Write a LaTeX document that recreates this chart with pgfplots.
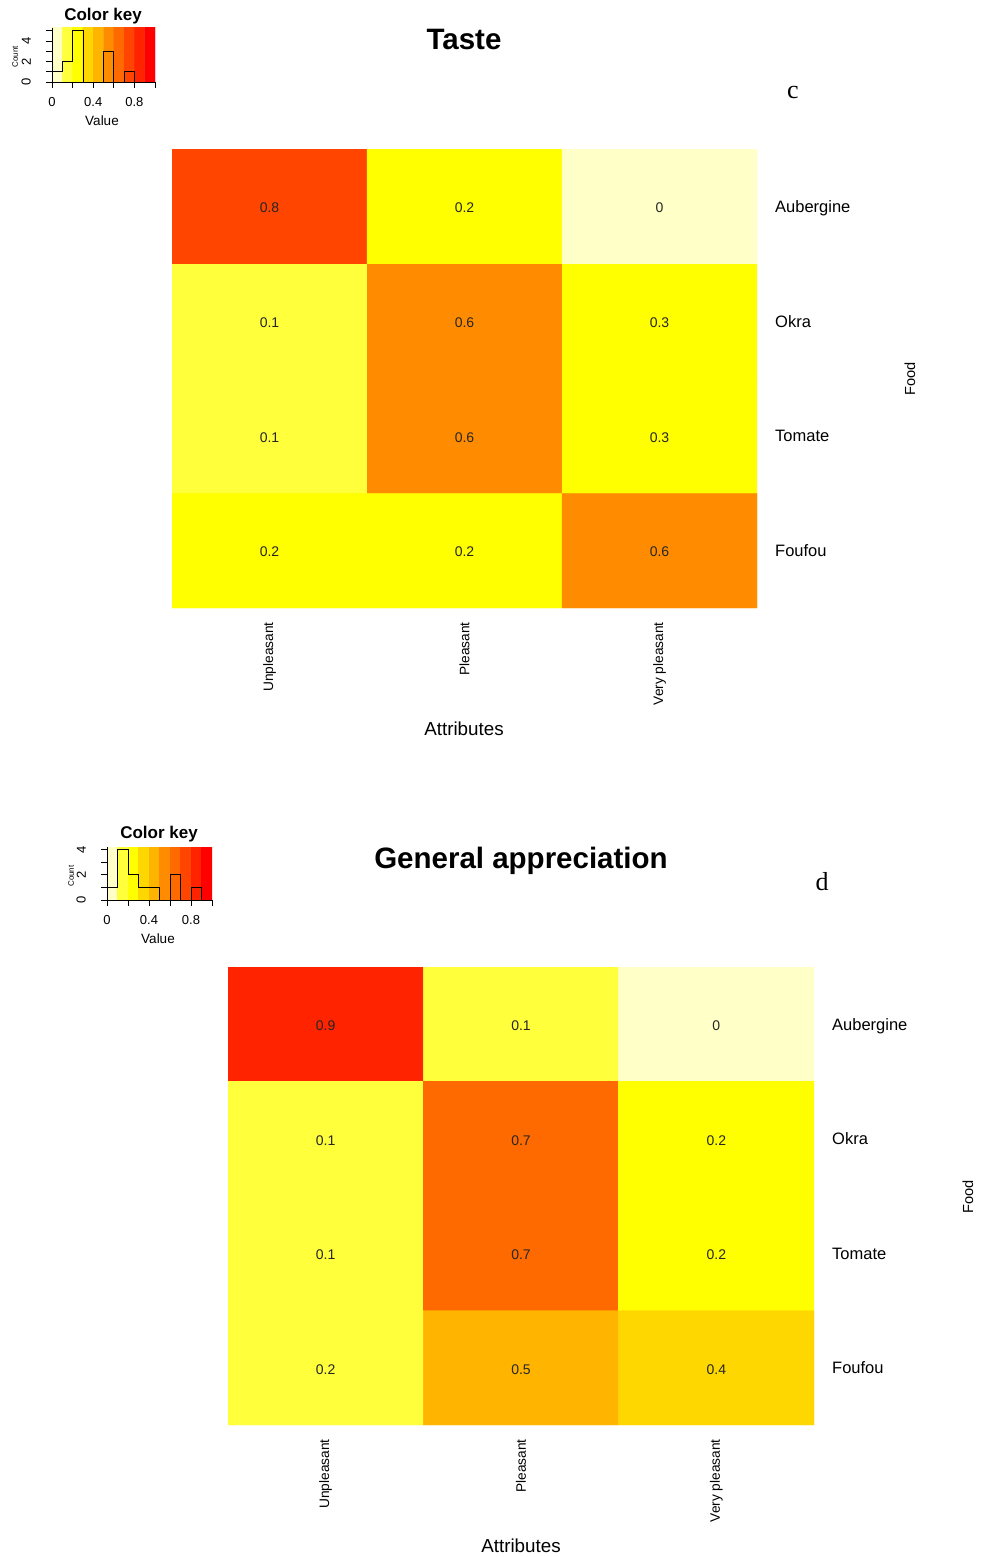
\documentclass[border=0pt]{standalone}
\usepackage{pgfplots}
\pgfplotsset{compat=1.18}
\usepackage{pgfplotstable}
\usepackage{fontspec}
\setmainfont{Liberation Sans}
\newfontfamily\panelfont{Liberation Serif}
\newcommand\fs[1]{\fontsize{#1}{#1}\selectfont}

% cell values (v) and the colour-key bin each cell falls in (bin)
\pgfplotstableread{
c r v bin
0 0 0.8 7
1 0 0.2 2
2 0 0 0
0 1 0.1 1
1 1 0.6 5
2 1 0.3 2
0 2 0.1 1
1 2 0.6 5
2 2 0.3 2
0 3 0.2 2
1 3 0.2 2
2 3 0.6 5
}\taste

\pgfplotstableread{
c r v bin
0 0 0.9 8
1 0 0.1 1
2 0 0 0
0 1 0.1 1
1 1 0.7 6
2 1 0.2 2
0 2 0.1 1
1 2 0.7 6
2 2 0.2 2
0 3 0.2 1
1 3 0.5 4
2 3 0.4 3
}\general

% colour strip behind the key histogram
\pgfplotstableread{
x y bin
0.05 0 0
0.15 0 1
0.25 0 2
0.35 0 3
0.45 0 4
0.55 0 5
0.65 0 6
0.75 0 7
0.85 0 8
0.95 0 9
0.05 20 0
0.15 20 1
0.25 20 2
0.35 20 3
0.45 20 4
0.55 20 5
0.65 20 6
0.75 20 7
0.85 20 8
0.95 20 9
}\keystrip

\pgfplotsset{
  colormap={heatkey}{rgb255=(255,255,200) rgb255=(255,255,60) rgb255=(255,255,0)
    rgb255=(255,215,0) rgb255=(255,180,0) rgb255=(255,140,0) rgb255=(255,106,0)
    rgb255=(255,69,0) rgb255=(255,35,0) rgb255=(255,0,0)},
  heatmap/.style={
    scale only axis, xmin=-0.5, xmax=2.5, ymin=-0.5, ymax=3.5, y dir=reverse,
    axis line style={draw=none}, major tick length=0pt,
    xtick={0,1,2}, xticklabels={Unpleasant,Pleasant,Very pleasant},
    xticklabel style={rotate=90, anchor=east, inner sep=0pt, font=\fs{13.7}},
    xticklabel shift=14pt,
    ytick={0,1,2,3}, yticklabels={Aubergine,Okra,Tomate,Foufou},
    yticklabel pos=right,
    yticklabel style={anchor=base west, inner sep=0pt, yshift=-6pt, font=\fs{16.5}},
    yticklabel shift=18pt,
    colormap name=heatkey, colormap access=direct,
  },
  cellvalues/.style={only marks, mark=none, nodes near coords,
    point meta=explicit symbolic,
    every node near coord/.append style={anchor=center, inner sep=0pt, yshift=-1.5pt,
      font=\fs{14}, text=black!85}},
  keyaxis/.style={
    scale only axis, xmin=0, xmax=1, ymin=0,
    axis x line=bottom, axis y line=left,
    axis line style={-, black, line width=0.75pt},
    tick align=outside, major tick length=6pt,
    tick style={black, line width=0.75pt},
    xtick={0,0.2,0.4,0.6,0.8,1}, xticklabels={0,,0.4,,0.8,},
    xticklabel style={font=\fs{13}, anchor=north, inner sep=0pt},
    xticklabel shift=9pt,
    yticklabel style={font=\fs{13}, rotate=90, anchor=south, inner sep=0pt},
    yticklabel shift=15pt,
    /pgf/number format/assume math mode=true,
    axis on top, colormap name=heatkey, colormap access=direct,
  },
}

\begin{document}
\begin{tikzpicture}[x=1pt,y=1pt]
\path[use as bounding box] (0,0) rectangle (982,-1557);

% ---------------- Taste ----------------
\begin{axis}[keyaxis, at={(52pt,-82pt)}, anchor=south west, width=103pt, height=54pt,
  ymax=5.263, ytick={0,1,2,3,4,5}, yticklabels={0,,2,,4,}]
  \addplot[matrix plot*, mesh/cols=10, point meta=explicit] table[x=x, y=y, meta=bin] {\keystrip};
  \addplot[const plot, black, line width=0.75pt] coordinates
    {(0,1) (0.1,2) (0.2,5) (0.3,0) (0.4,0) (0.5,3) (0.6,0) (0.7,1) (0.8,0) (0.9,0) (1,0)};
\end{axis}
\node[font=\fs{17}\bfseries] at (103,-16) {Color key};
\node[font=\fs{13.5}] at (102,-121) {Value};
\node[font=\fs{8}, rotate=90] at (15,-57) {Count};
\node[font=\fs{29.5}\bfseries, anchor=base] at (464,-50) {Taste};
\node[font=\fs{26}\panelfont] at (793,-93) {c};

\begin{axis}[heatmap, at={(172pt,-149pt)}, anchor=north west, width=585pt, height=459pt]
  \addplot[matrix plot*, mesh/cols=3, point meta=explicit] table[x=c, y=r, meta=bin] {\taste};
  \addplot[cellvalues] table[x=c, y=r, meta=v] {\taste};
\end{axis}
\node[font=\fs{14.6}, rotate=90] at (910,-379) {Food};
\node[font=\fs{18.8}] at (464,-729) {Attributes};

% ---------------- General appreciation ----------------
\begin{axis}[keyaxis, at={(107pt,-900pt)}, anchor=south west, width=105pt, height=53pt,
  ymax=4.2105, ytick={0,1,2,3,4}, yticklabels={0,,2,,4}]
  \addplot[matrix plot*, mesh/cols=10, point meta=explicit] table[x=x, y=y, meta=bin] {\keystrip};
  \addplot[const plot, black, line width=0.75pt] coordinates
    {(0,1) (0.1,4) (0.2,2) (0.3,1) (0.4,1) (0.5,0) (0.6,2) (0.7,0) (0.8,1) (0.9,0) (1,0)};
\end{axis}
\node[font=\fs{17}\bfseries] at (159,-834) {Color key};
\node[font=\fs{13.5}] at (158,-939) {Value};
\node[font=\fs{8}, rotate=90] at (71,-876) {Count};
\node[font=\fs{29.5}\bfseries, anchor=base] at (521,-868) {General appreciation};
\node[font=\fs{26}\panelfont] at (822,-882) {d};

\begin{axis}[heatmap, at={(228pt,-967pt)}, anchor=north west, width=586pt, height=458pt]
  \addplot[matrix plot*, mesh/cols=3, point meta=explicit] table[x=c, y=r, meta=bin] {\general};
  \addplot[cellvalues] table[x=c, y=r, meta=v] {\general};
\end{axis}
\node[font=\fs{14.6}, rotate=90] at (968,-1197) {Food};
\node[font=\fs{18.8}] at (521,-1546) {Attributes};
\end{tikzpicture}
\end{document}
